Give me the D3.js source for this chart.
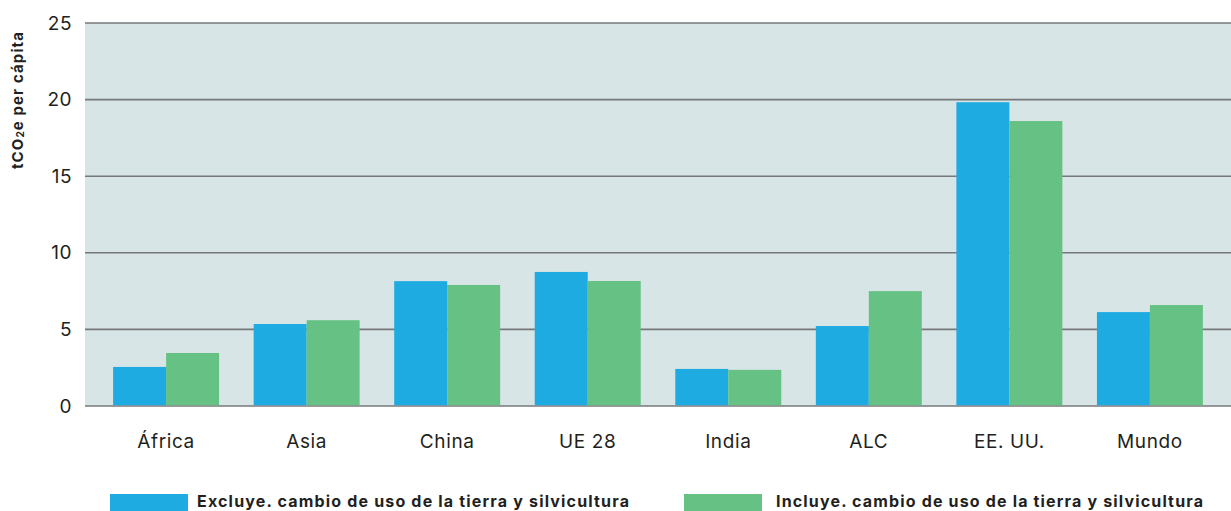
<!DOCTYPE html>
<html lang="es">
<head>
    <meta charset="utf-8" />
    <title>tCO2e per cápita</title>
    <style>
        body {
            margin: 0;
            background-color: white;
            font-family: 'Inter', 'Noto Sans', sans-serif;
        }

        .tick text {
            fill: #231f20;
        }

        .grid line {
            stroke: #76787a;
            stroke-width: 1.6px;
        }

        .legend text {
            font-weight: bold;
            fill: #231f20;
        }
    </style>
    <script src="https://d3js.org/d3.v7.min.js"></script>
</head>
<body>
    <svg id="vis"></svg>
    <script type="text/javascript">
        var categories = ["África", "Asia", "China", "UE 28", "India", "ALC", "EE. UU.", "Mundo"];
        var seriesNames = ["Excluye. cambio de uso de la tierra y silvicultura", "Incluye. cambio de uso de la tierra y silvicultura"];
        var excluye = [2.55, 5.35, 8.15, 8.75, 2.42, 5.22, 19.83, 6.13];
        var incluye = [3.46, 5.6, 7.9, 8.16, 2.36, 7.5, 18.6, 6.59];
        var yTicks = [0, 5, 10, 15, 20, 25];

        var width = 1231;
        var height = 511;
        var margin = { top: 23, left: 85, bottom: 105, right: 0 };

        var colors = ["#1eabe2", "#66c184"];

        var data = categories.map(function (c, i) {
            return { cat: c, values: [excluye[i], incluye[i]] };
        });

        var svg = d3.select("#vis")
            .attr("width", width)
            .attr("height", height);

        var x0 = d3.scaleBand()
            .domain(categories)
            .range([margin.left, width - margin.right])
            .paddingInner(0.246)
            .paddingOuter(0.2);

        var x1 = d3.scaleBand()
            .domain(d3.range(2))
            .range([0, x0.bandwidth()]);

        var y = d3.scaleLinear()
            .domain([0, 25])
            .range([height - margin.bottom, margin.top]);

        // plot background
        svg.append("rect")
            .attr("x", margin.left).attr("y", y(25))
            .attr("width", width - margin.right - margin.left)
            .attr("height", y(0) - y(25))
            .attr("fill", "#d8e5e6");

        // gridlines
        svg.append("g").attr("class", "grid")
            .selectAll("line").data(yTicks)
            .enter().append("line")
            .attr("x1", margin.left).attr("x2", width - margin.right)
            .attr("y1", function (d) { return y(d); }).attr("y2", function (d) { return y(d); });

        // bars
        var groups = svg.append("g").attr("class", "bars")
            .selectAll("g").data(data)
            .enter().append("g")
            .attr("transform", function (d) { return "translate(" + x0(d.cat) + ",0)"; });

        groups.selectAll("rect").data(function (d) { return d.values; })
            .enter().append("rect")
            .attr("x", function (d, i) { return x1(i); })
            .attr("width", x1.bandwidth())
            .attr("y", function (d) { return y(d); })
            .attr("height", function (d) { return y(0) - y(d) - 0.8; })
            .attr("fill", function (d, i) { return colors[i]; });

        // y axis
        var yAxis = svg.append("g")
            .attr("transform", "translate(" + margin.left + ",0)")
            .call(d3.axisLeft(y).tickValues(yTicks).tickSize(0).tickPadding(13));
        yAxis.select(".domain").remove();
        yAxis.selectAll("text")
            .style("font-size", "19px").style("font-family", "'Inter', sans-serif")
            .style("letter-spacing", "0.5px");

        // x axis
        var xAxis = svg.append("g")
            .attr("transform", "translate(0," + y(0) + ")")
            .call(d3.axisBottom(x0).tickSize(0).tickPadding(29));
        xAxis.select(".domain").remove();
        xAxis.selectAll("text")
            .style("font-size", "19px").style("font-family", "'Inter', sans-serif")
            .style("letter-spacing", "0.6px");

        // y title
        var title = svg.append("text")
            .attr("transform", "translate(23," + 100 + ") rotate(-90)")
            .attr("text-anchor", "middle")
            .style("font-size", "15px")
            .style("font-weight", "bold")
            .style("letter-spacing", "1.1px")
            .attr("fill", "#231f20");
        title.append("tspan").text("tCO");
        title.append("tspan").text("2").style("font-size", "10px").attr("dy", 1);
        title.append("tspan").text("e per cápita").attr("dy", -1);

        // legend
        var legendX = [110, 684];
        var legendW = [432, 427];
        var legend = svg.append("g").attr("class", "legend")
            .selectAll("g").data(seriesNames)
            .enter().append("g")
            .attr("transform", function (d, i) { return "translate(" + legendX[i] + ",494)"; });

        legend.append("rect")
            .attr("width", 78).attr("height", 17)
            .attr("fill", function (d, i) { return colors[i]; });

        legend.append("text")
            .attr("x", function (d, i) { return i == 0 ? 87 : 92; }).attr("y", 12.5)
            .style("font-size", "16px")
            .attr("textLength", function (d, i) { return legendW[i]; })
            .attr("lengthAdjust", "spacing")
            .text(function (d) { return d; });
    </script>
</body>
</html>
